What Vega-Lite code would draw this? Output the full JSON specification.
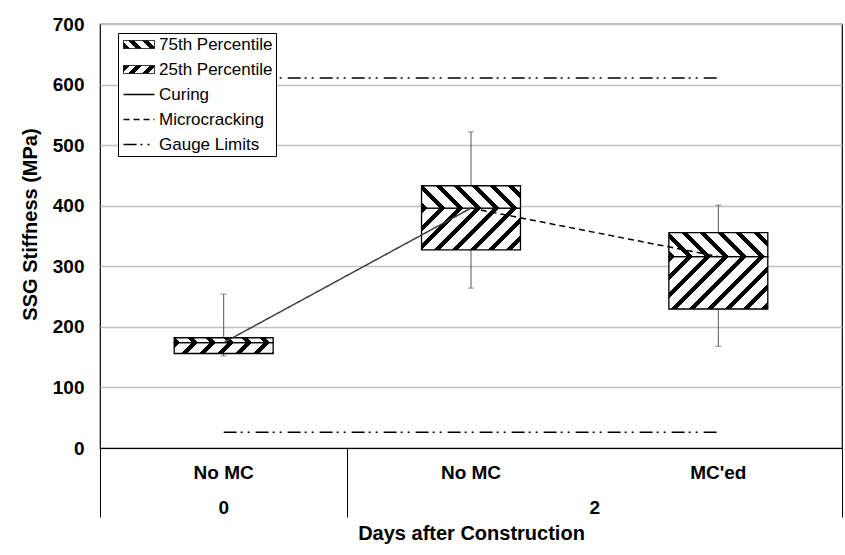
{
  "$schema": "https://vega.github.io/schema/vega-lite/v6.json",
  "width": 742,
  "height": 424,
  "autosize": {"type": "none"},
  "padding": {"left": 100, "top": 24, "right": 3, "bottom": 107},
  "background": "white",
  "config": {"view": {"stroke": "black", "strokeWidth": 1.2}, "font": "Liberation Sans"},
  "datasets": {
    "boxes": [
      {"cat": "0|No MC", "days": "0", "state": "No MC", "min": 152, "q1": 156, "median": 174, "q3": 182, "max": 254},
      {"cat": "2|No MC", "days": "2", "state": "No MC", "min": 264, "q1": 327, "median": 396, "q3": 433, "max": 522},
      {"cat": "2|MC'ed", "days": "2", "state": "MC'ed", "min": 168, "q1": 229.5, "median": 316, "q3": 355.5, "max": 401}
    ],
    "lines": [
      {"line": "curing", "series": "Curing", "cat": "0|No MC", "v": 174},
      {"line": "curing", "series": "Curing", "cat": "2|No MC", "v": 396},
      {"line": "mc", "series": "Microcracking", "cat": "2|No MC", "v": 396},
      {"line": "mc", "series": "Microcracking", "cat": "2|MC'ed", "v": 316},
      {"line": "gauge_upper", "series": "Gauge Limits", "cat": "0|No MC", "v": 611},
      {"line": "gauge_upper", "series": "Gauge Limits", "cat": "2|MC'ed", "v": 611},
      {"line": "gauge_lower", "series": "Gauge Limits", "cat": "0|No MC", "v": 26},
      {"line": "gauge_lower", "series": "Gauge Limits", "cat": "2|MC'ed", "v": 26}
    ]
  },
  "resolve": {"axis": {"x": "independent"}},
  "layer": [
    {
      "data": {"name": "boxes"},
      "mark": {"type": "rule", "color": "#595959", "strokeWidth": 1},
      "encoding": {
        "x": {
          "field": "cat", "type": "nominal", "sort": null,
          "scale": {"type": "band", "domain": ["0|No MC", "2|No MC", "2|MC'ed"], "paddingInner": 0, "paddingOuter": 0},
          "axis": {
            "orient": "bottom", "title": null, "grid": false, "ticks": false,
            "domain": true, "domainColor": "black", "domainWidth": 1.2,
            "labelExpr": "split(datum.value, '|')[1]",
            "labelFont": "Liberation Sans", "labelFontSize": 19, "labelFontWeight": "bold", "labelColor": "black",
            "labelAngle": 0, "labelPadding": 30, "labelBaseline": "alphabetic"
          }
        },
        "y": {
          "field": "min", "type": "quantitative",
          "scale": {"domain": [0, 700], "nice": false},
          "axis": {
            "values": [0, 100, 200, 300, 400, 500, 600, 700],
            "title": "SSG Stiffness (MPa)",
            "grid": true, "gridColor": "#bfbfbf", "gridWidth": 1.5,
            "ticks": false, "domain": false,
            "labelFont": "Liberation Sans", "labelFontSize": 19, "labelFontWeight": "bold", "labelColor": "black",
            "labelPadding": 16,
            "titleFont": "Liberation Sans", "titleFontSize": 20, "titleFontWeight": "bold", "titleColor": "black",
            "titleAngle": -90, "titleX": -70, "titleY": 200, "titleAlign": "center", "titleBaseline": "middle"
          }
        },
        "y2": {"field": "max"}
      }
    },
    {
      "data": {"name": "boxes"},
      "mark": {"type": "tick", "color": "#595959", "size": 6, "thickness": 1, "orient": "horizontal"},
      "encoding": {
        "x": {
          "field": "cat", "type": "nominal", "sort": null,
          "axis": {
            "orient": "bottom", "values": ["0|No MC"], "domain": false, "ticks": false, "grid": false,
            "labelExpr": "split(datum.value, '|')[0]",
            "labelFont": "Liberation Sans", "labelFontSize": 19, "labelFontWeight": "bold", "labelColor": "black",
            "labelAngle": 0, "labelPadding": 65, "labelBaseline": "alphabetic",
            "title": "Days after Construction",
            "titleFont": "Liberation Sans", "titleFontSize": 20, "titleFontWeight": "bold", "titleColor": "black",
            "titleY": 91, "titleBaseline": "alphabetic"
          }
        },
        "y": {"field": "max", "type": "quantitative"}
      }
    },
    {
      "data": {"name": "boxes"},
      "mark": {"type": "tick", "color": "#595959", "size": 6, "thickness": 1, "orient": "horizontal"},
      "encoding": {
        "x": {
          "field": "cat", "type": "nominal", "sort": null,
          "axis": {
            "orient": "bottom", "values": ["0|No MC", "2|No MC"], "bandPosition": 0,
            "labels": false, "domain": false, "grid": false, "title": null,
            "ticks": true, "tickSize": 69, "tickColor": "black", "tickWidth": 1
          }
        },
        "y": {"field": "min", "type": "quantitative"}
      }
    },
    {
      "data": {"name": "boxes"},
      "mark": {"type": "bar", "stroke": "black", "strokeWidth": 1.3, "width": {"band": 0.4}},
      "encoding": {
        "x": {
          "field": "cat", "type": "nominal", "sort": null,
          "axis": {
            "orient": "bottom", "values": ["2|MC'ed"], "bandPosition": 1,
            "labels": false, "domain": false, "grid": false, "title": null,
            "ticks": true, "tickSize": 69, "tickColor": "black", "tickWidth": 1
          }
        },
        "y": {"field": "q1", "type": "quantitative"},
        "y2": {"field": "median"},
        "fill": {
          "condition": [
            {"test": "datum.cat === '0|No MC'", "value": {"gradient": "linear", "x1": 0, "y1": 0, "x2": 1.0969, "y2": 0.1209, "stops": [
              {"offset": 0, "color": "#000"}, {"offset": 0.055, "color": "#000"}, {"offset": 0.055, "color": "#fff"}, {"offset": 0.164, "color": "#fff"},
              {"offset": 0.164, "color": "#000"}, {"offset": 0.219, "color": "#000"}, {"offset": 0.219, "color": "#fff"}, {"offset": 0.328, "color": "#fff"},
              {"offset": 0.328, "color": "#000"}, {"offset": 0.382, "color": "#000"}, {"offset": 0.382, "color": "#fff"}, {"offset": 0.492, "color": "#fff"},
              {"offset": 0.492, "color": "#000"}, {"offset": 0.546, "color": "#000"}, {"offset": 0.546, "color": "#fff"}, {"offset": 0.656, "color": "#fff"},
              {"offset": 0.656, "color": "#000"}, {"offset": 0.710, "color": "#000"}, {"offset": 0.710, "color": "#fff"}, {"offset": 0.819, "color": "#fff"},
              {"offset": 0.819, "color": "#000"}, {"offset": 0.874, "color": "#000"}, {"offset": 0.874, "color": "#fff"}, {"offset": 0.983, "color": "#fff"},
              {"offset": 0.983, "color": "#000"}, {"offset": 1, "color": "#000"}]}},
            {"test": "datum.cat === '2|No MC'", "value": {"gradient": "linear", "x1": 0, "y1": 0, "x2": 1.2071, "y2": 0.51, "stops": [
              {"offset": 0, "color": "#000"}, {"offset": 0.043, "color": "#000"}, {"offset": 0.043, "color": "#fff"}, {"offset": 0.128, "color": "#fff"},
              {"offset": 0.128, "color": "#000"}, {"offset": 0.171, "color": "#000"}, {"offset": 0.171, "color": "#fff"}, {"offset": 0.256, "color": "#fff"},
              {"offset": 0.256, "color": "#000"}, {"offset": 0.299, "color": "#000"}, {"offset": 0.299, "color": "#fff"}, {"offset": 0.384, "color": "#fff"},
              {"offset": 0.384, "color": "#000"}, {"offset": 0.427, "color": "#000"}, {"offset": 0.427, "color": "#fff"}, {"offset": 0.512, "color": "#fff"},
              {"offset": 0.512, "color": "#000"}, {"offset": 0.554, "color": "#000"}, {"offset": 0.554, "color": "#fff"}, {"offset": 0.640, "color": "#fff"},
              {"offset": 0.640, "color": "#000"}, {"offset": 0.682, "color": "#000"}, {"offset": 0.682, "color": "#fff"}, {"offset": 0.767, "color": "#fff"},
              {"offset": 0.767, "color": "#000"}, {"offset": 0.810, "color": "#000"}, {"offset": 0.810, "color": "#fff"}, {"offset": 0.895, "color": "#fff"},
              {"offset": 0.895, "color": "#000"}, {"offset": 0.938, "color": "#000"}, {"offset": 0.938, "color": "#fff"}, {"offset": 1, "color": "#fff"}]}}
          ],
          "value": {"gradient": "linear", "x1": 0, "y1": 0, "x2": 1.1945, "y2": 0.6327, "stops": [
            {"offset": 0, "color": "#000"}, {"offset": 0.040, "color": "#000"}, {"offset": 0.040, "color": "#fff"}, {"offset": 0.119, "color": "#fff"},
            {"offset": 0.119, "color": "#000"}, {"offset": 0.159, "color": "#000"}, {"offset": 0.159, "color": "#fff"}, {"offset": 0.238, "color": "#fff"},
            {"offset": 0.238, "color": "#000"}, {"offset": 0.278, "color": "#000"}, {"offset": 0.278, "color": "#fff"}, {"offset": 0.357, "color": "#fff"},
            {"offset": 0.357, "color": "#000"}, {"offset": 0.397, "color": "#000"}, {"offset": 0.397, "color": "#fff"}, {"offset": 0.476, "color": "#fff"},
            {"offset": 0.476, "color": "#000"}, {"offset": 0.516, "color": "#000"}, {"offset": 0.516, "color": "#fff"}, {"offset": 0.595, "color": "#fff"},
            {"offset": 0.595, "color": "#000"}, {"offset": 0.634, "color": "#000"}, {"offset": 0.634, "color": "#fff"}, {"offset": 0.714, "color": "#fff"},
            {"offset": 0.714, "color": "#000"}, {"offset": 0.753, "color": "#000"}, {"offset": 0.753, "color": "#fff"}, {"offset": 0.833, "color": "#fff"},
            {"offset": 0.833, "color": "#000"}, {"offset": 0.872, "color": "#000"}, {"offset": 0.872, "color": "#fff"}, {"offset": 0.952, "color": "#fff"},
            {"offset": 0.952, "color": "#000"}, {"offset": 0.991, "color": "#000"}, {"offset": 0.991, "color": "#fff"}, {"offset": 1, "color": "#fff"}]}
        }
      }
    },
    {
      "data": {"name": "boxes"},
      "mark": {"type": "bar", "stroke": "black", "strokeWidth": 1.3, "width": {"band": 0.4}},
      "encoding": {
        "x": {
          "field": "cat", "type": "nominal", "sort": null,
          "axis": {
            "orient": "bottom", "values": ["2|MC'ed"], "domain": false, "ticks": false, "grid": false, "title": null,
            "labelExpr": "split(datum.value, '|')[0]", "labelOffset": -123.67,
            "labelFont": "Liberation Sans", "labelFontSize": 19, "labelFontWeight": "bold", "labelColor": "black",
            "labelAngle": 0, "labelPadding": 65, "labelBaseline": "alphabetic"
          }
        },
        "y": {"field": "median", "type": "quantitative"},
        "y2": {"field": "q3"},
        "fill": {
          "condition": [
            {"test": "datum.cat === '0|No MC'", "value": {"gradient": "linear", "x1": 0, "y1": 1, "x2": 1.0465, "y2": 0.9487, "stops": [
              {"offset": 0, "color": "#000"}, {"offset": 0.058, "color": "#000"}, {"offset": 0.058, "color": "#fff"}, {"offset": 0.173, "color": "#fff"},
              {"offset": 0.173, "color": "#000"}, {"offset": 0.231, "color": "#000"}, {"offset": 0.231, "color": "#fff"}, {"offset": 0.347, "color": "#fff"},
              {"offset": 0.347, "color": "#000"}, {"offset": 0.405, "color": "#000"}, {"offset": 0.405, "color": "#fff"}, {"offset": 0.520, "color": "#fff"},
              {"offset": 0.520, "color": "#000"}, {"offset": 0.578, "color": "#000"}, {"offset": 0.578, "color": "#fff"}, {"offset": 0.694, "color": "#fff"},
              {"offset": 0.694, "color": "#000"}, {"offset": 0.752, "color": "#000"}, {"offset": 0.752, "color": "#fff"}, {"offset": 0.867, "color": "#fff"},
              {"offset": 0.867, "color": "#000"}, {"offset": 0.925, "color": "#000"}, {"offset": 0.925, "color": "#fff"}, {"offset": 1, "color": "#fff"}]}},
            {"test": "datum.cat === '2|No MC'", "value": {"gradient": "linear", "x1": 0, "y1": 1, "x2": 1.1666, "y2": 0.7359, "stops": [
              {"offset": 0, "color": "#000"}, {"offset": 0.049, "color": "#000"}, {"offset": 0.049, "color": "#fff"}, {"offset": 0.148, "color": "#fff"},
              {"offset": 0.148, "color": "#000"}, {"offset": 0.198, "color": "#000"}, {"offset": 0.198, "color": "#fff"}, {"offset": 0.297, "color": "#fff"},
              {"offset": 0.297, "color": "#000"}, {"offset": 0.346, "color": "#000"}, {"offset": 0.346, "color": "#fff"}, {"offset": 0.445, "color": "#fff"},
              {"offset": 0.445, "color": "#000"}, {"offset": 0.494, "color": "#000"}, {"offset": 0.494, "color": "#fff"}, {"offset": 0.593, "color": "#fff"},
              {"offset": 0.593, "color": "#000"}, {"offset": 0.643, "color": "#000"}, {"offset": 0.643, "color": "#fff"}, {"offset": 0.742, "color": "#fff"},
              {"offset": 0.742, "color": "#000"}, {"offset": 0.791, "color": "#000"}, {"offset": 0.791, "color": "#fff"}, {"offset": 0.890, "color": "#fff"},
              {"offset": 0.890, "color": "#000"}, {"offset": 0.940, "color": "#000"}, {"offset": 0.940, "color": "#fff"}, {"offset": 1, "color": "#fff"}]}}
          ],
          "value": {"gradient": "linear", "x1": 0, "y1": 1, "x2": 1.1731, "y2": 0.7166, "stops": [
            {"offset": 0, "color": "#000"}, {"offset": 0.049, "color": "#000"}, {"offset": 0.049, "color": "#fff"}, {"offset": 0.147, "color": "#fff"},
            {"offset": 0.147, "color": "#000"}, {"offset": 0.195, "color": "#000"}, {"offset": 0.195, "color": "#fff"}, {"offset": 0.293, "color": "#fff"},
            {"offset": 0.293, "color": "#000"}, {"offset": 0.342, "color": "#000"}, {"offset": 0.342, "color": "#fff"}, {"offset": 0.440, "color": "#fff"},
            {"offset": 0.440, "color": "#000"}, {"offset": 0.489, "color": "#000"}, {"offset": 0.489, "color": "#fff"}, {"offset": 0.586, "color": "#fff"},
            {"offset": 0.586, "color": "#000"}, {"offset": 0.635, "color": "#000"}, {"offset": 0.635, "color": "#fff"}, {"offset": 0.733, "color": "#fff"},
            {"offset": 0.733, "color": "#000"}, {"offset": 0.782, "color": "#000"}, {"offset": 0.782, "color": "#fff"}, {"offset": 0.879, "color": "#fff"},
            {"offset": 0.879, "color": "#000"}, {"offset": 0.928, "color": "#000"}, {"offset": 0.928, "color": "#fff"}, {"offset": 1, "color": "#fff"}]}
        }
      }
    },
    {
      "data": {"name": "lines"},
      "mark": {"type": "line", "strokeWidth": 1.5},
      "encoding": {
        "x": {"field": "cat", "type": "nominal", "sort": null, "axis": null},
        "y": {"field": "v", "type": "quantitative"},
        "detail": {"field": "line", "type": "nominal"},
        "stroke": {"condition": {"test": "datum.series === 'Curing'", "value": "#404040"}, "value": "black"},
        "strokeDash": {
          "field": "series", "type": "nominal",
          "scale": {
            "domain": ["75th Percentile", "25th Percentile", "Curing", "Microcracking", "Gauge Limits"],
            "range": [[1, 0], [1, 0], [1, 0], [6, 4], [13, 4, 2, 5, 2, 6]]
          },
          "legend": {
            "orient": "none", "legendX": 18, "legendY": 9, "title": null,
            "strokeColor": "black", "fillColor": "white", "padding": 3,
            "labelFont": "Liberation Sans", "labelFontSize": 17, "labelColor": "black",
            "labelOffset": 21, "symbolSize": 100, "rowPadding": 7,
            "symbolStrokeColor": "black", "symbolStrokeWidth": 1.3,
            "encode": {
              "symbols": {
                "update": {
                  "shape": {"signal": "(datum.value === '75th Percentile' || datum.value === '25th Percentile') ? 'M-1.2,-0.8H5V0.8H-1.2Z' : 'M-1.2,0H5'"},
                  "size": {"value": 100},
                  "stroke": {"value": "black"},
                  "opacity": {"value": 1},
                  "strokeWidth": {"signal": "(datum.value === '75th Percentile' || datum.value === '25th Percentile') ? 1 : 1.3"},
                  "fill": {"signal": "datum.value === '75th Percentile' ? {gradient: 'linear', x1: 0, y1: 1, x2: 1.1795, y2: 0.6957, stops: [{offset: 0, color: 'black'}, {offset: 0.154, color: 'black'}, {offset: 0.154, color: 'white'}, {offset: 0.333, color: 'white'}, {offset: 0.333, color: 'black'}, {offset: 0.487, color: 'black'}, {offset: 0.487, color: 'white'}, {offset: 0.667, color: 'white'}, {offset: 0.667, color: 'black'}, {offset: 0.821, color: 'black'}, {offset: 0.821, color: 'white'}, {offset: 1, color: 'white'}]} : datum.value === '25th Percentile' ? {gradient: 'linear', x1: 0, y1: 0, x2: 1.1795, y2: 0.3043, stops: [{offset: 0, color: 'black'}, {offset: 0.154, color: 'black'}, {offset: 0.154, color: 'white'}, {offset: 0.333, color: 'white'}, {offset: 0.333, color: 'black'}, {offset: 0.487, color: 'black'}, {offset: 0.487, color: 'white'}, {offset: 0.667, color: 'white'}, {offset: 0.667, color: 'black'}, {offset: 0.821, color: 'black'}, {offset: 0.821, color: 'white'}, {offset: 1, color: 'white'}]} : 'transparent'"}
                }
              }
            }
          }
        }
      }
    }
  ]
}
